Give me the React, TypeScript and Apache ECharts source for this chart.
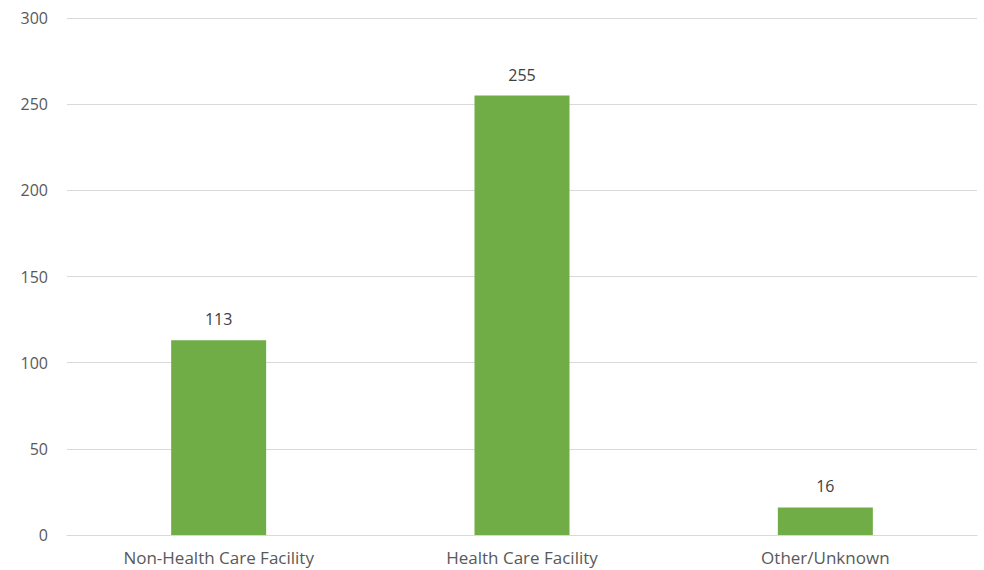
import React, { useEffect, useRef } from "react";
import * as echarts from "echarts";

const categories = ["Non-Health Care Facility", "Health Care Facility", "Other/Unknown"];
const values = [113, 255, 16];
const yTicks = [0, 50, 100, 150, 200, 250, 300];

export default function App() {
  const ref = useRef<HTMLDivElement>(null);
  useEffect(() => {
    document.body.style.margin = "0";
    const chart = echarts.init(ref.current!, null, { renderer: "svg" });
    const font = "'Open Sans', 'Segoe UI', sans-serif";
    chart.setOption({
      animation: false,
      backgroundColor: "#ffffff",
      grid: { left: 67, right: 7, top: 18, bottom: 35 },
      xAxis: {
        type: "category",
        data: categories,
        axisTick: { show: false },
        axisLine: { lineStyle: { color: "#d9d9d9", width: 1 } },
        axisLabel: { color: "#595959", fontSize: 17, fontFamily: font, margin: 14 },
      },
      yAxis: {
        type: "value",
        min: yTicks[0],
        max: yTicks[yTicks.length - 1],
        interval: 50,
        axisLine: { show: false },
        axisTick: { show: false },
        splitLine: { lineStyle: { color: "#d9d9d9", width: 1 } },
        axisLabel: { color: "#595959", fontSize: 16, fontFamily: font, margin: 19 },
      },
      series: [
        {
          type: "bar",
          data: values,
          barWidth: 95,
          itemStyle: { color: "#70ad47" },
          label: {
            show: true,
            position: "top",
            distance: 13,
            color: "#404040",
            fontSize: 16,
            fontFamily: font,
          },
        },
      ],
    });
    return () => chart.dispose();
  }, []);
  return <div ref={ref} style={{ width: 984, height: 570 }} />;
}
